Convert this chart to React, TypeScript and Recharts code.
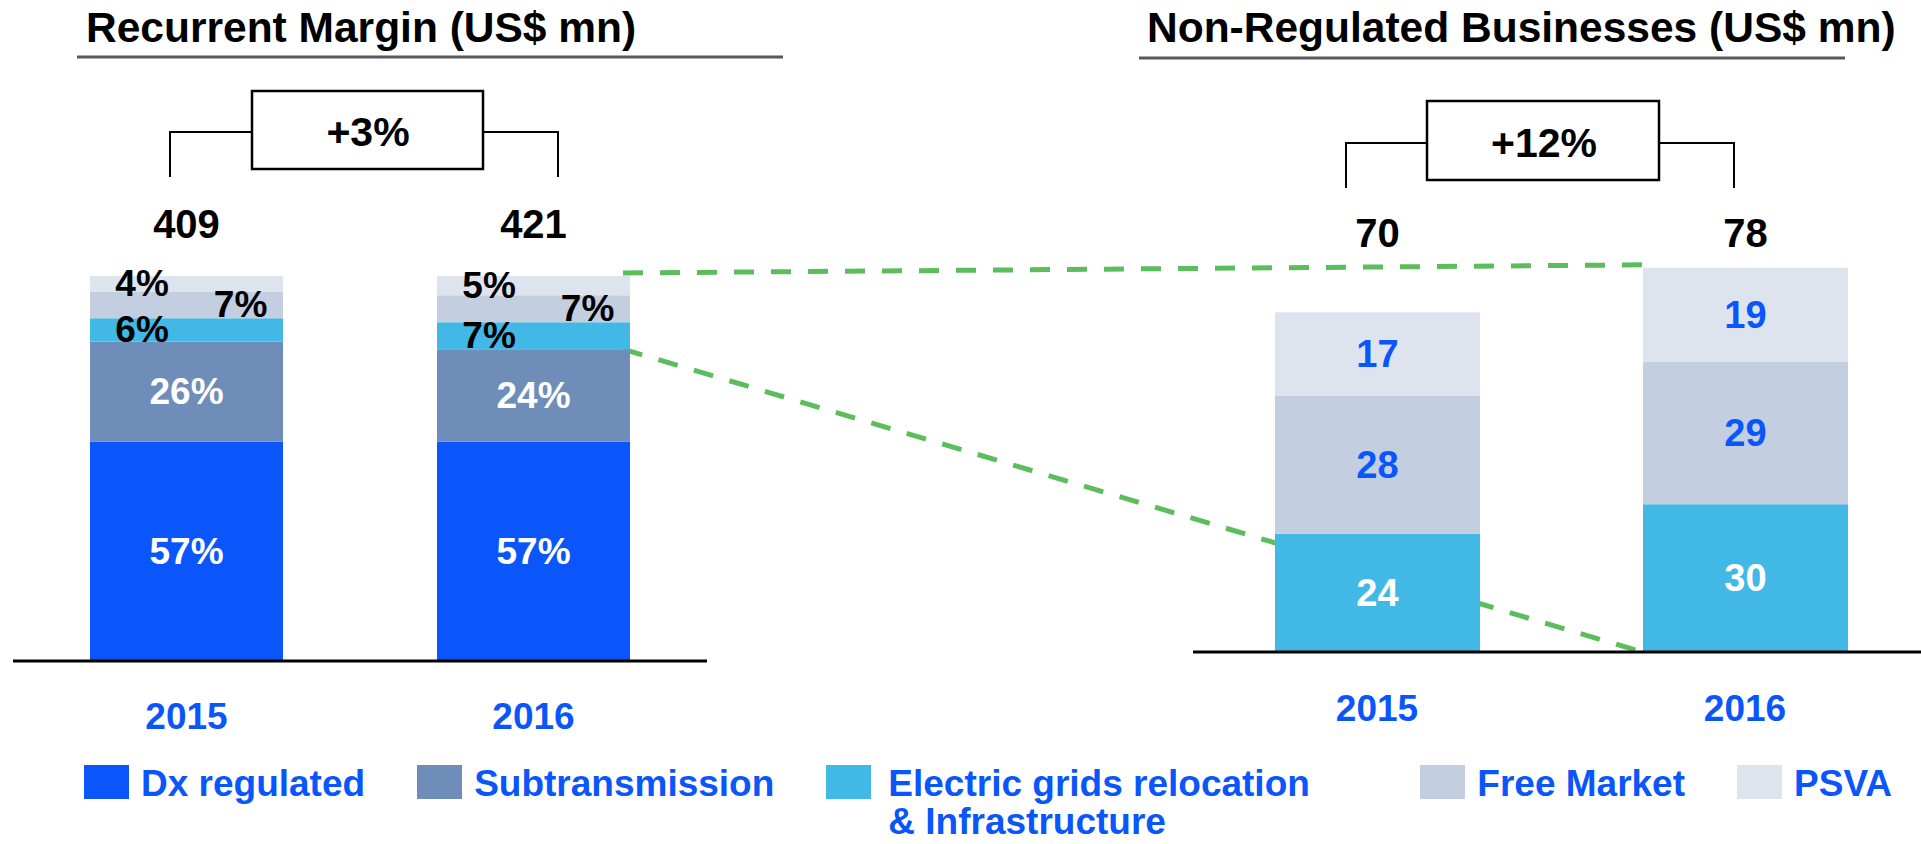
import React from "react";
import { BarChart, Bar, XAxis, YAxis, LabelList } from "recharts";

const years = ["2015", "2016"];

// Recurrent margin, share of total (%)
const dxRegulated = [57, 57];
const subtransmission = [26, 24];
const gridsRelocation = [6, 7];
const freeMarket = [7, 7];
const psva = [4, 5];
const marginTotals = [409, 421];

// Non-regulated businesses (US$ mn)
const nrGrids = [24, 30];
const nrFreeMarket = [28, 29];
const nrPsva = [17, 19];
const nrTotals = [70, 78];

const growthMargin = "+3%";
const growthNonReg = "+12%";

const FONT = '"Liberation Sans", Arial, Helvetica, sans-serif';
const BLUE = "#0A56FA";
const GREEN = "#5BBD5B";

const series = [
  { key: "dx", name: "Dx regulated", color: "#0A56FA" },
  { key: "sub", name: "Subtransmission", color: "#6F8DB9" },
  { key: "grids", name: "Electric grids relocation\n& Infrastructure", color: "#41B8E5" },
  { key: "fm", name: "Free Market", color: "#C3CEE0" },
  { key: "psva", name: "PSVA", color: "#DEE4EE" },
];
const colorOf = (k: string) => series.find((s) => s.key === k)!.color;

const marginData = years.map((year, i) => ({
  year,
  dx: dxRegulated[i],
  sub: subtransmission[i],
  grids: gridsRelocation[i],
  fm: freeMarket[i],
  psva: psva[i],
}));

const nonRegData = years.map((year, i) => ({
  year,
  grids: nrGrids[i],
  fm: nrFreeMarket[i],
  psva: nrPsva[i],
}));

// layout (page pixels)
const AXIS_H = 60;
const left = { chartX: 0, width: 720, x0: 13, x1: 707, top: 276, bottom: 661, bar: 193, max: 100 };
const right = { chartX: 1180, width: 760, x0: 1193, x1: 1929, top: 258, bottom: 652, bar: 205, max: 80 };

const yOf = (c: typeof left, v: number) => c.bottom - (v / c.max) * (c.bottom - c.top);
const bandCenter = (c: typeof left, i: number) => c.x0 + ((c.x1 - c.x0) / years.length) * (i + 0.5);

const pctLabel = (color: string, pos: number) => (p: any) => {
  const { x, y, width, height, value } = p;
  return (
    <text
      x={Number(x) + Number(width) * pos}
      y={Number(y) + Number(height) / 2}
      fill={color}
      textAnchor="middle"
      dominantBaseline="central"
      fontSize={37}
      fontWeight={700}
      fontFamily={FONT}
    >
      {value}%
    </text>
  );
};

const numLabel = (color: string) => (p: any) => {
  const { x, y, width, height, value } = p;
  return (
    <text
      x={Number(x) + Number(width) / 2}
      y={Number(y) + Number(height) / 2}
      fill={color}
      textAnchor="middle"
      dominantBaseline="central"
      fontSize={38}
      fontWeight={700}
      fontFamily={FONT}
    >
      {value}
    </text>
  );
};

const totalLabel = (totals: number[], cy: number) => (p: any) => {
  const { x, width, index } = p;
  return (
    <text
      x={Number(x) + Number(width) / 2}
      y={cy}
      fill="#000"
      textAnchor="middle"
      dominantBaseline="central"
      fontSize={40}
      fontWeight={700}
      fontFamily={FONT}
    >
      {totals[index]}
    </text>
  );
};

const tickStyle = { fill: BLUE, fontSize: 37, fontWeight: 700, fontFamily: FONT };

const Annotations = () => {
  const l2016 = bandCenter(left, 1) + left.bar / 2;
  const r2016 = bandCenter(right, 1) - right.bar / 2;
  const dash = { stroke: GREEN, strokeWidth: 5, strokeDasharray: "20 17", fill: "none" };
  const titleStyle = { fontSize: 42.5, fontWeight: 700, fontFamily: FONT, fill: "#000" };
  const growthStyle = { fontSize: 41, fontWeight: 700, fontFamily: FONT, fill: "#000" };
  return (
    <svg width={1921} height={844} style={{ position: "absolute", left: 0, top: 0 }}>
      <text x={86} y={42} {...titleStyle}>Recurrent Margin (US$ mn)</text>
      <line x1={77} x2={783} y1={57} y2={57} stroke="#595959" strokeWidth={3} />
      <text x={1147} y={42} {...titleStyle}>Non-Regulated Businesses (US$ mn)</text>
      <line x1={1139} x2={1845} y1={58} y2={58} stroke="#595959" strokeWidth={3} />

      <path d="M170,177 V132 H252 M483,132 H558 V177" stroke="#000" strokeWidth={2} fill="none" />
      <rect x={252} y={91} width={231} height={78} stroke="#000" strokeWidth={2.5} fill="#fff" />
      <text x={368} y={146} textAnchor="middle" {...growthStyle}>{growthMargin}</text>

      <path d="M1346,188 V143 H1427 M1659,143 H1734 V188" stroke="#000" strokeWidth={2} fill="none" />
      <rect x={1427} y={101} width={232} height={79} stroke="#000" strokeWidth={2.5} fill="#fff" />
      <text x={1544} y={157} textAnchor="middle" {...growthStyle}>{growthNonReg}</text>

      <line x1={l2016 - 7} y1={yOf(left, 100) - 3} x2={r2016} y2={yOf(right, nrTotals[1]) - 3} {...dash} />
      <line
        x1={l2016 - 7}
        y1={yOf(left, dxRegulated[1] + subtransmission[1])}
        x2={r2016}
        y2={yOf(right, 0)}
        {...dash}
      />
    </svg>
  );
};

const Legend = () => (
  <div
    style={{
      position: "absolute",
      left: 84,
      top: 765,
      display: "flex",
      alignItems: "flex-start",
      gap: 52,
      fontFamily: FONT,
      fontWeight: 700,
      fontSize: 37,
      lineHeight: "38px",
      color: BLUE,
    }}
  >
    {series.map((s) => (
      <div key={s.key} style={{ display: "flex", alignItems: "flex-start" }}>
        <div style={{ width: 45, height: 34, background: s.color, marginRight: s.key === "grids" ? 17 : 12 }} />
        <div style={{ width: s.key === "grids" ? 480 : undefined, whiteSpace: "pre" }}>{s.name}</div>
      </div>
    ))}
  </div>
);

export default function App() {
  return (
    <div style={{ position: "absolute", left: 0, top: 0, width: 1921, height: 844, overflow: "hidden", background: "#fff" }}>
      <Annotations />

      <div style={{ position: "absolute", left: left.chartX, top: 0 }}>
        <BarChart
          width={left.width}
          height={844}
          data={marginData}
          margin={{
            top: left.top,
            bottom: 844 - left.bottom - AXIS_H,
            left: left.x0 - left.chartX,
            right: left.chartX + left.width - left.x1,
          }}
        >
          <XAxis
            dataKey="year"
            height={AXIS_H}
            axisLine={{ stroke: "#000", strokeWidth: 3 }}
            tickLine={false}
            tickSize={0}
            tickMargin={42}
            tick={tickStyle}
          />
          <YAxis hide domain={[0, left.max]} />
          <Bar dataKey="dx" stackId="a" fill={colorOf("dx")} barSize={left.bar} isAnimationActive={false}>
            <LabelList dataKey="dx" content={pctLabel("#fff", 0.5)} />
          </Bar>
          <Bar dataKey="sub" stackId="a" fill={colorOf("sub")} barSize={left.bar} isAnimationActive={false}>
            <LabelList dataKey="sub" content={pctLabel("#fff", 0.5)} />
          </Bar>
          <Bar dataKey="grids" stackId="a" fill={colorOf("grids")} barSize={left.bar} isAnimationActive={false}>
            <LabelList dataKey="grids" content={pctLabel("#000", 0.27)} />
          </Bar>
          <Bar dataKey="fm" stackId="a" fill={colorOf("fm")} barSize={left.bar} isAnimationActive={false}>
            <LabelList dataKey="fm" content={pctLabel("#000", 0.78)} />
          </Bar>
          <Bar dataKey="psva" stackId="a" fill={colorOf("psva")} barSize={left.bar} isAnimationActive={false}>
            <LabelList dataKey="psva" content={pctLabel("#000", 0.27)} />
            <LabelList dataKey="psva" content={totalLabel(marginTotals, 224)} />
          </Bar>
        </BarChart>
      </div>

      <div style={{ position: "absolute", left: right.chartX, top: 0 }}>
        <BarChart
          width={right.width}
          height={844}
          data={nonRegData}
          margin={{
            top: right.top,
            bottom: 844 - right.bottom - AXIS_H,
            left: right.x0 - right.chartX,
            right: right.chartX + right.width - right.x1,
          }}
        >
          <XAxis
            dataKey="year"
            height={AXIS_H}
            axisLine={{ stroke: "#000", strokeWidth: 3 }}
            tickLine={false}
            tickSize={0}
            tickMargin={43}
            tick={tickStyle}
          />
          <YAxis hide domain={[0, right.max]} />
          <Bar dataKey="grids" stackId="b" fill={colorOf("grids")} barSize={right.bar} isAnimationActive={false}>
            <LabelList dataKey="grids" content={numLabel("#fff")} />
          </Bar>
          <Bar dataKey="fm" stackId="b" fill={colorOf("fm")} barSize={right.bar} isAnimationActive={false}>
            <LabelList dataKey="fm" content={numLabel(BLUE)} />
          </Bar>
          <Bar dataKey="psva" stackId="b" fill={colorOf("psva")} barSize={right.bar} isAnimationActive={false}>
            <LabelList dataKey="psva" content={numLabel(BLUE)} />
            <LabelList dataKey="psva" content={totalLabel(nrTotals, 233)} />
          </Bar>
        </BarChart>
      </div>

      <Legend />
    </div>
  );
}
